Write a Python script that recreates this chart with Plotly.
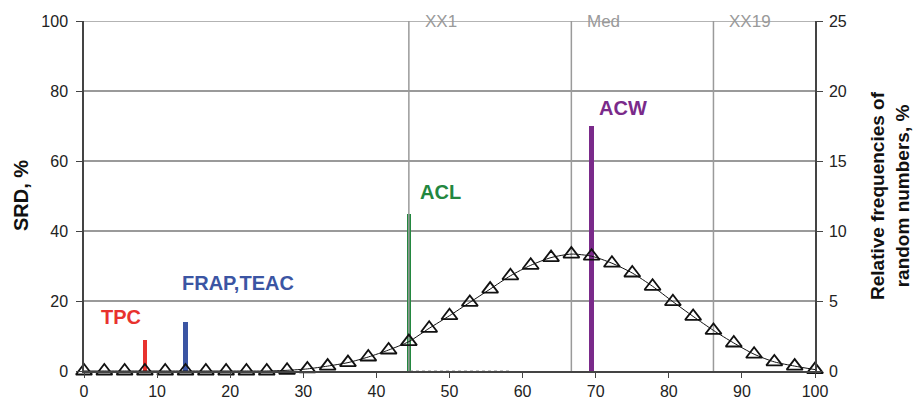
import plotly.graph_objects as go

# ---- data ----
bin_x = [0, 2.78, 5.56, 8.33, 11.11, 13.89, 16.67, 19.44, 22.22, 25, 27.78, 30.56,
         33.33, 36.11, 38.89, 41.67, 44.44, 47.22, 50, 52.78, 55.56, 58.33, 61.11,
         63.89, 66.67, 69.44, 72.22, 75, 77.78, 80.56, 83.33, 86.11, 88.89, 91.67,
         94.44, 97.22, 100]
rel_freq = [0, 0, 0, 0, 0, 0, 0, 0, 0, 0, 0.05, 0.15,
            0.35, 0.6, 1.0, 1.5, 2.1, 3.05, 3.95, 4.9, 5.85, 6.8, 7.55,
            8.1, 8.35, 8.2, 7.7, 7.0, 6.05, 4.95, 3.9, 2.9, 2.0, 1.2,
            0.65, 0.35, 0.1]

bar_names = ["TPC", "FRAP,TEAC", "ACL", "ACW"]
bar_x = [8.33, 13.89, 44.44, 69.44]
bar_srd = [9, 14, 45, 70]
bar_colors = ["#e8322e", "#3b55a3", "#23873f", "#7a2a8a"]

ref_names = ["XX1", "Med", "XX19"]
ref_x = [44.44, 66.67, 86.11]

dotted_x = [44.6, 58.3]
dotted_y = [0, 0]

x_ticks = [0, 10, 20, 30, 40, 50, 60, 70, 80, 90, 100]
srd_ticks = [0, 20, 40, 60, 80, 100]
freq_ticks = [0, 5, 10, 15, 20, 25]

FONT = "Arial, Liberation Sans, sans-serif"
GRID = "#9a9a9a"
AXIS = "#444444"
TXT = "#222222"

fig = go.Figure()

# bars (SRD)
fig.add_trace(go.Bar(
    x=bar_x, y=bar_srd, width=[0.55, 0.65, 0.55, 0.75],
    marker=dict(color=bar_colors, line=dict(width=0)),
    yaxis="y", showlegend=False, hoverinfo="skip"))

# reference vertical lines
for rx in ref_x:
    fig.add_trace(go.Scatter(
        x=[rx, rx], y=[0, 100], mode="lines",
        line=dict(color=GRID, width=1.5), yaxis="y",
        showlegend=False, hoverinfo="skip"))

# dotted baseline segment
fig.add_trace(go.Scatter(
    x=dotted_x, y=dotted_y, mode="lines",
    line=dict(color="#888888", width=1.2, dash="dot"), yaxis="y",
    showlegend=False, hoverinfo="skip"))

# frequency curve
fig.add_trace(go.Scatter(
    x=bin_x, y=rel_freq, mode="lines",
    line=dict(color="#111111", width=1, shape="spline", smoothing=0.7),
    yaxis="y2", showlegend=False, hoverinfo="skip", cliponaxis=False))
fig.add_trace(go.Scatter(
    x=bin_x, y=rel_freq, mode="markers",
    marker=dict(symbol="triangle-up-open", size=14, color="#111111",
                line=dict(width=1.8, color="#111111")),
    yaxis="y2", showlegend=False, cliponaxis=False))

# bar labels
label_pos = {"TPC": (5.1, 15.4), "FRAP,TEAC": (21.1, 25.1),
             "ACL": (48.8, 51.1), "ACW": (73.8, 75.1)}
for name, col in zip(bar_names, bar_colors):
    lx, ly = label_pos[name]
    fig.add_annotation(x=lx, y=ly, xref="x", yref="y", text=f"<b>{name}</b>",
                       showarrow=False, font=dict(family=FONT, size=20, color=col))

# reference labels
for name, rx in zip(ref_names, ref_x):
    fig.add_annotation(x=rx, y=100, xref="x", yref="y", text=name, xanchor="left",
                       xshift=14, showarrow=False,
                       font=dict(family=FONT, size=17, color="#9a9a9a"))

# axis titles
fig.add_annotation(xref="paper", yref="paper", x=0, y=0.5, xshift=-63,
                   xanchor="center", yanchor="middle",
                   text="<b>SRD, %</b>", textangle=-90, showarrow=False,
                   font=dict(family=FONT, size=20, color="#111111"))
fig.add_annotation(xref="paper", yref="paper", x=1, y=0.5, xshift=75,
                   xanchor="center", yanchor="middle",
                   text="<b>Relative frequencies of<br>random numbers, %</b>",
                   textangle=-90, showarrow=False,
                   font=dict(family=FONT, size=19, color="#111111"))

# top border line
fig.add_shape(type="line", xref="paper", yref="y", x0=0, x1=1, y0=100, y1=100,
              line=dict(color=GRID, width=1.5))

fig.update_layout(
    template="none",
    width=916, height=400,
    margin=dict(l=84, r=101, t=21, b=29, autoexpand=False),
    paper_bgcolor="white", plot_bgcolor="white",
    font=dict(family=FONT, size=16, color=TXT),
    bargap=0,
    xaxis=dict(range=[0, 100], tickvals=x_ticks, showgrid=False, zeroline=False,
               automargin=False,
               showline=True, linecolor=AXIS, linewidth=1.5,
               ticks="outside", ticklen=5, tickcolor=AXIS,
               tickfont=dict(size=16, color=TXT)),
    yaxis=dict(range=[0, 100], tickvals=srd_ticks, showgrid=True, gridcolor=GRID,
               gridwidth=1.5, zeroline=False, showline=True, linecolor=AXIS,
               automargin=False, ticklabelstandoff=5,
               linewidth=1.5, ticks="outside", ticklen=6, tickcolor=AXIS,
               tickfont=dict(size=16, color=TXT)),
    yaxis2=dict(range=[0, 25], tickvals=freq_ticks, overlaying="y", side="right",
                showgrid=False, zeroline=False, showline=True, linecolor=AXIS,
                automargin=False, ticklabelstandoff=3,
                linewidth=1.5, ticks="outside", ticklen=6, tickcolor=AXIS,
                tickfont=dict(size=16, color=TXT)),
)

fig.write_html("out.html", config={"displayModeBar": False},
               post_script="document.body.style.margin='0';document.body.style.padding='0';")
